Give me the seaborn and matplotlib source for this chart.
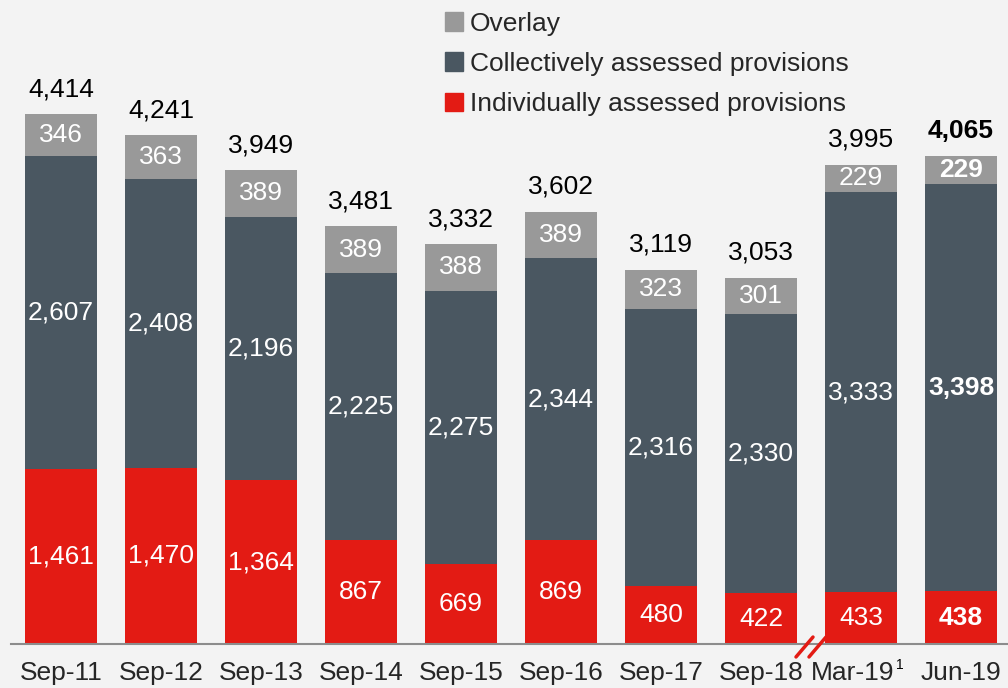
import numpy as np
import pandas as pd
import matplotlib
matplotlib.use("Agg")
import matplotlib.pyplot as plt
import matplotlib.transforms as mtransforms
import seaborn as sns
from matplotlib.patches import Patch

# datos del gráfico
periodos = ["Sep-11", "Sep-12", "Sep-13", "Sep-14", "Sep-15", "Sep-16", "Sep-17", "Sep-18", "Mar-19", "Jun-19"]
individual = [1461, 1470, 1364, 867, 669, 869, 480, 422, 433, 438]
colectivo = [2607, 2408, 2196, 2225, 2275, 2344, 2316, 2330, 3333, 3398]
overlay = [346, 363, 389, 389, 388, 389, 323, 301, 229, 229]

c_rojo = "#e31b14"
c_gris_osc = "#4a5761"
c_gris = "#999999"
fondo = "#f3f3f3"

df = pd.DataFrame({"periodo": periodos, "ind": individual, "col": colectivo, "ovl": overlay})
df["base_ovl"] = df["ind"] + df["col"]
df["total"] = df["base_ovl"] + df["ovl"]

sns.set_style("white", {"axes.facecolor": fondo, "figure.facecolor": fondo})
plt.rcParams["font.family"] = ["Liberation Sans", "DejaVu Sans"]
fs = 19

fig = plt.figure(figsize=(10.08, 6.88), dpi=100)
ax = fig.add_axes([11 / 1008, 44 / 688, 1000 / 1008, 644 / 688])

# barras apiladas (se dibujan superpuestas de mayor a menor)
for col, color in [("total", c_gris), ("base_ovl", c_gris_osc), ("ind", c_rojo)]:
    sns.barplot(data=df, x="periodo", y=col, color=color, width=0.72, saturation=1,
                linewidth=0, ax=ax)

ax.set_xlim(-0.5, 9.5)
ax.set_ylim(0, 5367)

# etiquetas de valores
for i, fila in df.iterrows():
    peso = "bold" if i == len(df) - 1 else "normal"
    ax.text(i, fila["ind"] / 2, f"{fila['ind']:,}", ha="center", va="center",
            color="white", fontsize=fs, fontweight=peso)
    ax.text(i, fila["ind"] + fila["col"] / 2, f"{fila['col']:,}", ha="center", va="center",
            color="white", fontsize=fs, fontweight=peso)
    ax.text(i, fila["base_ovl"] + fila["ovl"] / 2, f"{fila['ovl']:,}", ha="center", va="center",
            color="white", fontsize=fs, fontweight=peso)
    ax.annotate(f"{fila['total']:,}", (i, fila["total"]), xytext=(0, 13), textcoords="offset points",
                ha="center", va="baseline", color="black", fontsize=fs, fontweight=peso)

# ejes
for lado in ["top", "right", "left"]:
    ax.spines[lado].set_visible(False)
ax.spines["bottom"].set_color("#8c8c8c")
ax.spines["bottom"].set_linewidth(1.5)
ax.set_yticks([])
ax.set_xlabel("")
ax.set_ylabel("")

ax.set_xticks(range(len(periodos)))
ax.set_xticklabels(periodos, fontsize=fs)
ax.tick_params(axis="x", which="major", length=0, pad=12)
limites = [b - 0.5 for b in range(len(periodos) + 1) if b != 8]
ax.set_xticks(limites, minor=True)
ax.tick_params(axis="x", which="minor", length=6, width=1.5, color="#8c8c8c")

# la etiqueta Mar-19 va algo desplazada a la izquierda por la nota al pie
etiqueta_mar = ax.get_xticklabels()[8]
etiqueta_mar.set_transform(etiqueta_mar.get_transform() +
                           mtransforms.ScaledTranslation(-6 / 72, 0, fig.dpi_scale_trans))
ax.annotate("1", (8, 0), xytext=(25, -10), textcoords="offset points",
            ha="left", va="top", fontsize=10, color="black")

# marca de corte del eje
for dx in [0.0, 0.13]:
    ax.plot([7.35 + dx, 7.52 + dx], [-108, 58], color=c_rojo, lw=2.5, clip_on=False, zorder=5)

# leyenda
handles = [Patch(color=c_gris), Patch(color=c_gris_osc), Patch(color=c_rojo)]
nombres = ["Overlay", "Collectively assessed provisions", "Individually assessed provisions"]
fig.legend(handles, nombres, loc="upper left", bbox_to_anchor=(434 / 1008, 1 - 1 / 688),
           frameon=False, fontsize=fs, handlelength=0.7, handleheight=0.7,
           handletextpad=0.25, labelspacing=0.62, borderaxespad=0)

fig.savefig("out.png", dpi=100, facecolor=fondo)
